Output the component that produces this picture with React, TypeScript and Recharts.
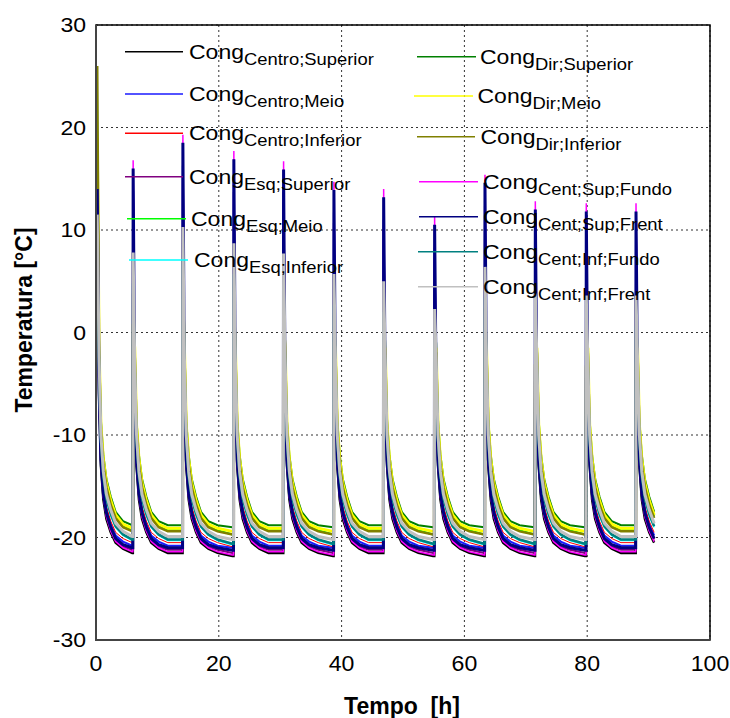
import React from 'react';
import { LineChart, Line, XAxis, YAxis, CartesianGrid, ReferenceArea } from 'recharts';

// ---- data ----
const seriesSubs = [
  'Centro;Superior', 'Centro;Meio', 'Centro;Inferior',
  'Esq;Superior', 'Esq;Meio', 'Esq;Inferior',
  'Dir;Superior', 'Dir;Meio', 'Dir;Inferior',
  'Cent;Sup;Fundo', 'Cent;Sup;Frent', 'Cent;Inf;Fundo', 'Cent;Inf;Frent',
];
const seriesColors = [
  '#000000', '#1a1aff', '#ff0000',
  '#800080', '#00ff00', '#00ffff',
  '#008000', '#ffff00', '#808000',
  '#ff00ff', '#000080', '#008080', '#c0c0c0',
];
const seriesWidths = [2.5, 2, 1, 2, 2, 1.5, 2, 3, 2.5, 1.5, 3, 2.5, 3];

// spike (door opening) times [h] and end of record
const spikeTimes = [0.2, 6.0, 14.1, 22.4, 30.5, 38.7, 46.8, 55.1, 63.3, 71.5, 79.8, 87.9];
const endTime = 91.0;
// highest spike value of each cycle (first cycle uses initialValues)
const cyclePeaks = [0, 16.8, 19.3, 17.7, 16.7, 14.7, 14.0, 11.3, 15.4, 12.8, 12.6, 12.6];
// starting value of each series at the first record
const initialValues = [15.5, 13, 9, 10, 8, 24, 6, 19, 26, 12, 14, 7, 11.5];
// how far below the cycle peak each series spikes
const peakDrops = [9, 3, 8, 4, 13, 14, 12, 16, 13, 0, 0.8, 12, 9];

// hours after each spike, and each series' temperature at those times
const decayOffsets = [0.3, 0.6, 1.0, 1.5, 2.2, 3.0, 4.2, 5.7, 8.1];
const decayBlack = [-6, -13.0, -16.3, -18.2, -19.5, -20.5, -21.1, -21.5, -21.8];
const decayBlue = [-5, -12.0, -15.4, -17.3, -18.7, -19.8, -20.4, -20.8, -21.0];
const decayRed = [-4.5, -11.6, -15.0, -17.0, -18.4, -19.5, -20.1, -20.5, -20.9];
const decayPurple = [-5.5, -12.5, -15.9, -17.8, -19.2, -20.2, -20.9, -21.2, -21.5];
const decayLime = [-2, -9.6, -13.0, -15.2, -16.8, -17.9, -18.8, -19.3, -19.7];
const decayCyan = [-3.5, -10.8, -14.3, -16.4, -17.9, -19.0, -19.8, -20.3, -20.7];
const decayGreen = [-1, -8.6, -12.0, -14.3, -16.0, -17.5, -18.4, -18.8, -19.0];
const decayYellow = [-1.5, -9.0, -12.4, -14.7, -16.4, -17.8, -18.7, -19.1, -19.4];
const decayOlive = [-2, -9.5, -12.9, -15.1, -16.8, -18.1, -19.0, -19.4, -19.7];
const decayMagenta = [-6, -12.8, -16.1, -18.0, -19.4, -20.4, -21.0, -21.4, -21.7];
const decayNavy = [-5.5, -12.4, -15.7, -17.6, -19.0, -20.1, -20.7, -21.0, -21.25];
const decayTeal = [-3.5, -10.6, -14.1, -16.2, -17.7, -18.9, -19.7, -20.2, -20.6];
const decaySilver = [-2.5, -10.0, -13.6, -15.8, -17.3, -18.6, -19.4, -19.9, -20.2];

const decayTables = [
  decayBlack, decayBlue, decayRed, decayPurple, decayLime, decayCyan,
  decayGreen, decayYellow, decayOlive, decayMagenta, decayNavy, decayTeal, decaySilver,
];

const xTicks = [0, 20, 40, 60, 80, 100];
const yTicks = [-30, -20, -10, 0, 10, 20, 30];

// ---- table for recharts ----
type Row = { [k: string]: number };
const rows: Row[] = [];
(() => {
  let last: number[] = initialValues.slice();
  spikeTimes.forEach((start, c) => {
    const next = c + 1 < spikeTimes.length ? spikeTimes[c + 1] : endTime;
    const isLastCycle = c + 1 >= spikeTimes.length;
    if (c === 0) {
      const r: Row = { t: start };
      initialValues.forEach((v, i) => (r['s' + i] = v));
      rows.push(r);
    } else {
      const pre: Row = { t: start };
      last.forEach((v, i) => (pre['s' + i] = v));
      rows.push(pre);
      const pk: Row = { t: start + 0.05 };
      peakDrops.forEach((d, i) => (pk['s' + i] = cyclePeaks[c] - d));
      rows.push(pk);
    }
    decayOffsets.forEach((off, k) => {
      const t = start + off;
      const ok = isLastCycle ? t <= next + 1e-6 : t < next - 0.04;
      if (!ok) return;
      const r: Row = { t };
      decayTables.forEach((tab, i) => (r['s' + i] = tab[k]));
      rows.push(r);
      last = decayTables.map((tab) => tab[k]);
    });
  });
})();

// ---- legend layout (pixel positions) ----
const legendLeft = [
  { y: 51.7, x1: 125, x2: 183, tx: 189 },
  { y: 94, x1: 125, x2: 183, tx: 189 },
  { y: 133.3, x1: 125, x2: 183, tx: 189 },
  { y: 176.7, x1: 125, x2: 183, tx: 189 },
  { y: 218.7, x1: 127, x2: 186, tx: 191 },
  { y: 260, x1: 129, x2: 188, tx: 194 },
];
const legendRight = [
  { y: 56.7, x1: 417, x2: 476, tx: 480 },
  { y: 96, x1: 414, x2: 473, tx: 477.5 },
  { y: 136.7, x1: 417, x2: 475, tx: 480.5 },
  { y: 181.7, x1: 419, x2: 478, tx: 483 },
  { y: 216.7, x1: 419, x2: 478, tx: 483 },
  { y: 251.7, x1: 418, x2: 478, tx: 483 },
  { y: 286.7, x1: 418, x2: 478, tx: 483 },
];
const legendPos = [...legendLeft, ...legendRight];

const FONT = '"Liberation Sans", Arial, Helvetica, sans-serif';

const XTick = (props: any) => {
  const { x, y, payload } = props;
  return (
    <text
      transform={`translate(${x},${y + 31}) scale(1.05,1)`}
      textAnchor="middle"
      fontSize={22}
      fontFamily={FONT}
      fill="#000"
    >
      {payload.value}
    </text>
  );
};

const YTick = (props: any) => {
  const { x, y, payload } = props;
  return (
    <text
      transform={`translate(${x - 10},${y + 7}) scale(1.18,1)`}
      textAnchor="end"
      fontSize={19.5}
      fontFamily={FONT}
      fill="#000"
    >
      {payload.value}
    </text>
  );
};

export default function App() {
  return (
    <div
      style={{
        position: 'absolute',
        left: 0,
        top: 0,
        width: 730,
        height: 718,
        background: '#fff',
        overflow: 'hidden',
      }}
    >
      <LineChart
        width={730}
        height={718}
        data={rows}
        margin={{ top: 25, right: 20, bottom: 28, left: 0 }}
      >
        <CartesianGrid stroke="#333" strokeDasharray="2 3" strokeWidth={1} />
        <XAxis
          dataKey="t"
          type="number"
          domain={[0, 100]}
          ticks={xTicks}
          interval={0}
          tick={XTick}
          tickLine={false}
          tickSize={0}
          tickMargin={0}
          height={50}
          axisLine={false}
          allowDataOverflow
        />
        <YAxis
          type="number"
          domain={[-30, 30]}
          ticks={yTicks}
          interval={0}
          tick={YTick}
          tickLine={false}
          tickSize={0}
          tickMargin={0}
          width={96}
          axisLine={false}
          allowDataOverflow
        />
        {seriesSubs.map((name, i) => (
          <Line
            key={name}
            type="linear"
            dataKey={'s' + i}
            stroke={seriesColors[i]}
            strokeWidth={seriesWidths[i]}
            dot={false}
            activeDot={false}
            isAnimationActive={false}
          />
        ))}
        <ReferenceArea
          x1={0}
          x2={100}
          y1={-30}
          y2={30}
          fill="none"
          fillOpacity={0}
          stroke="#000"
          strokeWidth={1.5}
          ifOverflow="visible"
        />
      </LineChart>
      <svg
        width={730}
        height={718}
        style={{ position: 'absolute', left: 0, top: 0, pointerEvents: 'none' }}
      >
        {/* left / bottom axis lines slightly heavier */}
        <line x1={96} y1={25} x2={96} y2={641} stroke="#444" strokeWidth={2} />
        <line x1={95} y1={640} x2={710} y2={640} stroke="#444" strokeWidth={2} />
        {seriesSubs.map((sub, i) => {
          const p = legendPos[i];
          return (
            <g key={sub}>
              <line x1={p.x1} y1={p.y} x2={p.x2} y2={p.y} stroke={seriesColors[i]} strokeWidth={1.5} />
              <text
                transform={`translate(${p.tx},${p.y + 7}) scale(1.15,1)`}
                fontFamily={FONT}
                fill="#000"
              >
                <tspan fontSize={20}>Cong</tspan>
                <tspan fontSize={16} dy={6}>{sub}</tspan>
              </text>
            </g>
          );
        })}
        <text
          x={402}
          y={714}
          textAnchor="middle"
          fontSize={23}
          fontWeight="bold"
          fontFamily={FONT}
          style={{ whiteSpace: 'pre' }}
          fill="#000"
        >
          {'Tempo  [h]'}
        </text>
        <text
          transform="translate(31.5,320) rotate(-90)"
          textAnchor="middle"
          fontSize={23}
          fontWeight="bold"
          fontFamily={FONT}
          fill="#000"
        >
          Temperatura [°C]
        </text>
      </svg>
    </div>
  );
}
